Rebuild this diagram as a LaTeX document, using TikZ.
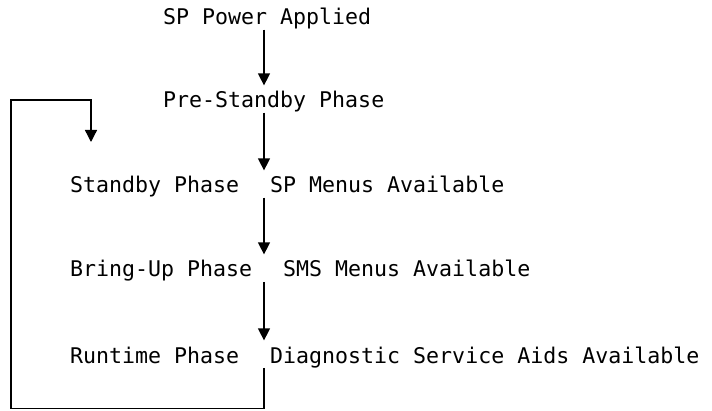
\documentclass[tikz,border=0pt]{standalone}
\usepackage{fontspec}
\setmonofont{DejaVu Sans Mono}
\usetikzlibrary{arrows.meta,positioning,calc}
\tikzset{
  phasetext/.style={anchor=base west,inner sep=0pt,font=\ttfamily\fontsize{21.6}{26}\selectfont},
  phasearrow/.style={-{Triangle[length=12pt,width=12pt]},line width=1.3pt,shorten >=6pt}
}

\begin{document}
\begin{tikzpicture}[x=1pt,y=-1pt]
\useasboundingbox (0,0) rectangle (712,411);
\node[phasetext] (power) at (163,25) {SP Power Applied};
\node[phasetext] (pre) at (163,108) {Pre-Standby Phase};
\node[phasetext] (standby) at (70,193) {Standby Phase};
\node[phasetext] (spmenu) at (270,193) {SP Menus Available};
\node[phasetext] (bringup) at (70,277) {Bring-Up Phase};
\node[phasetext] (smsmenu) at (283,277) {SMS Menus Available};
\node[phasetext] (runtime) at (70,363) {Runtime Phase};
\node[phasetext] (diag) at (270,363) {Diagnostic Service Aids Available};
\coordinate (spine) at (264,0);
\coordinate (loopend) at (91,142);
\draw[phasearrow] (power.south -| spine) -- (pre.north -| spine);
\draw[phasearrow] (pre.south -| spine) -- (standby.north -| spine);
\draw[phasearrow] (standby.south -| spine) -- (bringup.north -| spine);
\draw[phasearrow] (bringup.south -| spine) -- (runtime.north -| spine);
% loop back from runtime to standby
\draw[phasearrow,shorten >=0pt] (diag.south -| spine) -- ++(0,41) -| (11,100) -| (loopend);
\end{tikzpicture}
\end{document}
